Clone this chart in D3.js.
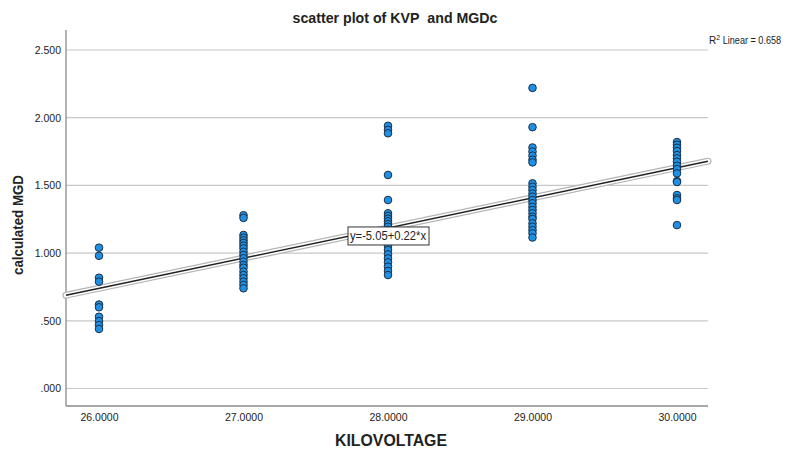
<!DOCTYPE html>
<html><head><meta charset="utf-8">
<script src="https://cdn.jsdelivr.net/npm/d3@7"></script>
<style>
body{margin:0;background:#fff;}
svg{display:block;}
text{font-family:"Liberation Sans Narrow","Arial Narrow","Liberation Sans",Arial,sans-serif;fill:#222;}
</style></head>
<body>
<svg id="c" width="789" height="453"></svg>
<script>
const kv26 = [1.04,0.98,0.818,0.789,0.62,0.60,0.53,0.498,0.469,0.44];
const kv27 = [1.28,1.26,1.134,1.114,1.094,1.075,1.055,1.035,1.01,0.986,0.962,0.937,0.912,0.892,0.863,0.838,0.814,0.789,0.765,0.74];
const kv28 = [1.94,1.91,1.885,1.577,1.392,1.294,1.274,1.254,1.235,1.215,1.195,1.171,1.109,1.084,1.052,1.023,0.991,0.961,0.932,0.90,0.868,0.838];
const kv29 = [2.22,1.93,1.78,1.75,1.72,1.69,1.67,1.515,1.49,1.466,1.44,1.417,1.392,1.368,1.342,1.318,1.294,1.269,1.252,1.22,1.195,1.17,1.146,1.115];
const kv30 = [1.82,1.80,1.778,1.754,1.724,1.70,1.675,1.645,1.621,1.589,1.532,1.525,1.429,1.405,1.392,1.207];
const kvLevels = [26,27,28,29,30];
const groups = [kv26,kv27,kv28,kv29,kv30];
const xTickLabels = ["26.0000","27.0000","28.0000","29.0000","30.0000"];
const yTickValues = [0,0.5,1,1.5,2,2.5];
const yTickLabels = [".000",".500","1.000","1.500","2.000","2.500"];
const fitIntercept = -5.05, fitSlope = 0.2227;
const fitLabel = "y=-5.05+0.22*x";
const r2Value = "0.658";

const points = [];
groups.forEach((g,i)=>g.forEach(v=>points.push({kv:kvLevels[i],mgd:v})));

const svg = d3.select("#c");
const L=66, R=708, T=30, B=406;
const x = d3.scaleLinear().domain([26,30]).range([99,677]);
const y = d3.scaleLinear().domain([0,2.5]).range([388.5,50]);

// gridlines
svg.append("g").selectAll("line").data(yTickValues).join("line")
  .attr("x1",L).attr("x2",R).attr("y1",d=>y(d)).attr("y2",d=>y(d))
  .attr("stroke","#c8c8c8").attr("stroke-width",1.2);

// axes
const yAxis = d3.axisLeft(y).tickValues(yTickValues).tickFormat((d,i)=>yTickLabels[i]).tickSize(0).tickPadding(5);
const gy = svg.append("g").attr("transform",`translate(${L},0)`).call(yAxis);
gy.select(".domain").remove();
gy.selectAll("text").attr("font-size","10.5px").attr("fill","#333");
const xAxis = d3.axisBottom(x).tickValues(kvLevels).tickFormat((d,i)=>xTickLabels[i]).tickSize(0).tickPadding(8);
const gx = svg.append("g").attr("transform",`translate(0,${B})`).call(xAxis);
gx.select(".domain").remove();
gx.selectAll("text").attr("font-size","10.5px").attr("fill","#333");

svg.append("line").attr("x1",L).attr("x2",L).attr("y1",T).attr("y2",B).attr("stroke","#8a8a8a").attr("stroke-width",1.3);
svg.append("line").attr("x1",L).attr("x2",R).attr("y1",B).attr("y2",B).attr("stroke","#8a8a8a").attr("stroke-width",1.3);

// regression line
const x0 = x.invert(L), x1 = x.invert(R);
const fitPts = [[x0, fitIntercept+fitSlope*x0],[x1, fitIntercept+fitSlope*x1]];
const ln = d3.line().x(d=>x(d[0])).y(d=>y(d[1]));
svg.append("path").attr("d",ln(fitPts)).attr("stroke","#b4b4b4").attr("stroke-width",7).attr("stroke-linecap","round").attr("fill","none");
svg.append("path").attr("d",ln(fitPts)).attr("stroke","#ffffff").attr("stroke-width",4.6).attr("stroke-linecap","round").attr("fill","none");
svg.append("path").attr("d",ln(fitPts)).attr("stroke","#222").attr("stroke-width",1.5).attr("fill","none");

// points
svg.append("g").selectAll("circle").data(points).join("circle")
  .attr("cx",d=>x(d.kv)).attr("cy",d=>y(d.mgd)).attr("r",3.8)
  .attr("fill","#1e90e6").attr("stroke","#1b2f45").attr("stroke-width",1);

// fit label box
const lx = x(28), ly = y(fitIntercept+fitSlope*28) + 8;
const lg = svg.append("g");
const lt = lg.append("text").attr("x",lx).attr("y",ly+4.5).attr("text-anchor","middle").attr("font-size","12px")
  .attr("textLength",76).attr("lengthAdjust","spacingAndGlyphs").text(fitLabel);
lg.insert("rect","text").attr("x",lx-40).attr("y",ly-9).attr("width",81).attr("height",18)
  .attr("fill","#fff").attr("stroke","#333").attr("stroke-width",1);

// titles
svg.append("text").attr("x",395).attr("y",23).attr("text-anchor","middle").attr("font-size","15px").attr("font-weight","bold")
  .attr("textLength",205).attr("lengthAdjust","spacingAndGlyphs").text("scatter plot of KVP\u00a0 and MGDc");
svg.append("text").attr("x",391).attr("y",446).attr("text-anchor","middle").attr("font-size","16px").attr("font-weight","bold")
  .attr("textLength",112).attr("lengthAdjust","spacingAndGlyphs").text("KILOVOLTAGE");
svg.append("text").attr("transform","translate(23,225) rotate(-90)").attr("text-anchor","middle").attr("font-size","15px").attr("font-weight","bold")
  .attr("textLength",100).attr("lengthAdjust","spacingAndGlyphs").text("calculated MGD");
const r2 = svg.append("text").attr("x",709).attr("y",44).attr("font-size","10px");
r2.append("tspan").text("R");
r2.append("tspan").attr("dy",-4).attr("font-size","7px").text("2");
r2.append("tspan").attr("dy",4).attr("textLength",61).attr("lengthAdjust","spacingAndGlyphs").text(" Linear = "+r2Value);
</script>
</body></html>
